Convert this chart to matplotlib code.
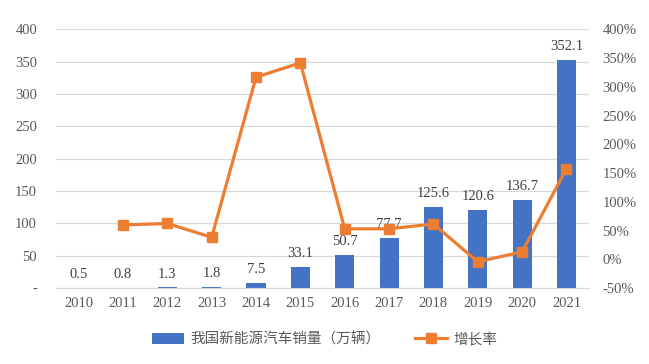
import numpy as np
import matplotlib.pyplot as plt
from matplotlib.ticker import FuncFormatter

years = ['2010', '2011', '2012', '2013', '2014', '2015', '2016',
         '2017', '2018', '2019', '2020', '2021']
sales = [0.5, 0.8, 1.3, 1.8, 7.5, 33.1, 50.7, 77.7, 125.6, 120.6, 136.7, 352.1]
growth = [None, 60, 62.5, 38.5, 316.7, 341.3, 53.2, 53.3, 61.6, -4.0, 13.3, 157.6]

plt.rcParams['font.family'] = ['Liberation Serif', 'Noto Sans CJK SC']
blue = '#4472C4'
orange = '#ED7D31'
grey = '#595959'

fig = plt.figure(figsize=(6.49, 3.64), dpi=100)
ax = fig.add_axes([0.087, 0.208, 0.82, 0.712])
x = np.arange(len(years))

ax.bar(x, sales, width=0.43, color=blue, zorder=2,
       label='我国新能源汽车销量（万辆）')
for xi, v in zip(x, sales):
    ax.annotate(f'{v}', (xi, v), xytext=(0, 5), textcoords='offset points',
                ha='center', va='bottom', fontsize=10.5, color='#404040')

ax.set_ylim(0, 400)
ax.set_yticks(np.arange(0, 401, 50))
ax.yaxis.set_major_formatter(FuncFormatter(lambda v, p: '-' if v == 0 else f'{v:.0f}'))
ax.set_xlim(-0.5, len(years) - 0.5)
ax.set_xticks(x)
ax.set_xticklabels(years)
ax.grid(axis='y', color='#D9D9D9', linewidth=0.9, zorder=0)
ax.set_axisbelow(True)
for s in ['top', 'right', 'left']:
    ax.spines[s].set_visible(False)
ax.spines['bottom'].set_color('#D9D9D9')
ax.tick_params(length=0, labelsize=10.5, colors=grey, pad=6)
ax.tick_params(axis='y', pad=14)

ax2 = ax.twinx()
gx = [xi for xi, g in zip(x, growth) if g is not None]
gy = [g for g in growth if g is not None]
ax2.plot(gx, gy, color=orange, linewidth=2.3, marker='s', markersize=7.5,
         zorder=3, label='增长率')
ax2.set_ylim(-50, 400)
ax2.set_yticks(np.arange(-50, 401, 50))
ax2.yaxis.set_major_formatter(FuncFormatter(lambda v, p: f'{v:.0f}%'))
for s in ax2.spines.values():
    s.set_visible(False)
ax2.tick_params(length=0, labelsize=10.5, colors=grey, pad=10)

h1, l1 = ax.get_legend_handles_labels()
h2, l2 = ax2.get_legend_handles_labels()
leg = fig.legend(h1 + h2, l1 + l2, loc='lower center', ncol=2, frameon=False,
                 bbox_to_anchor=(0.5, 0.012), handlelength=2.2, handletextpad=0.4,
                 columnspacing=2.4,
                 prop={'family': ['Noto Sans CJK SC'], 'size': 10.5})
for t in leg.get_texts():
    t.set_color(grey)

fig.savefig('out.png', dpi=100)
